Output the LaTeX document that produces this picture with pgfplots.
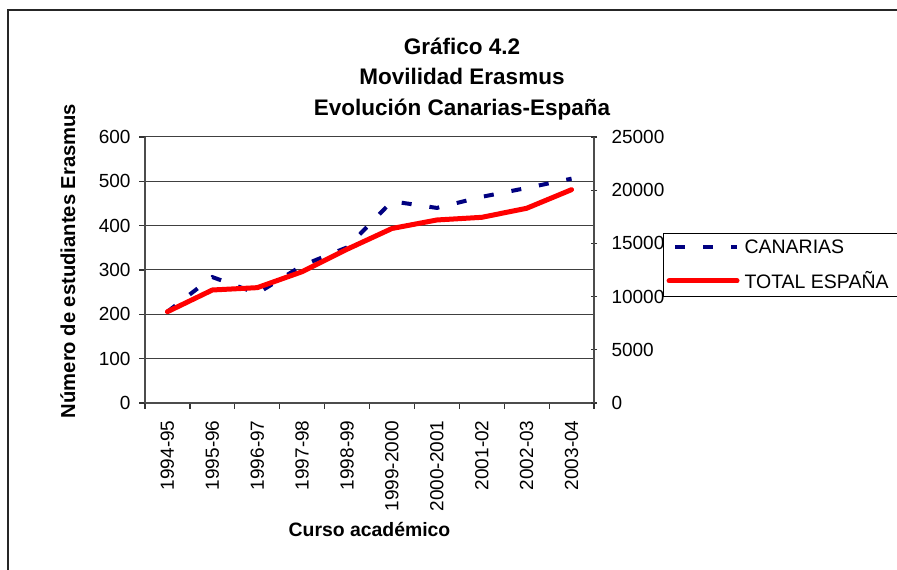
\documentclass[border=0pt]{standalone}
\usepackage{pgfplots}
\pgfplotsset{compat=1.18}
\usepackage{fontspec}
\setmainfont{Liberation Sans}
\definecolor{canblue}{RGB}{0,0,128}
\definecolor{espred}{RGB}{255,0,0}

\pgfplotstableread{
x can esp
0 206 8580
1 284 10620
2 247 10840
3 310 12340
4 351 14450
5 455 16400
6 440 17200
7 465 17450
8 485 18300
9 506 20050
}\datatable

\begin{document}
\begin{tikzpicture}[x=1bp,y=1bp]
\useasboundingbox (0,0) rectangle (897,570);
\fill[white] (0,0) rectangle (897,570);
\draw[line width=1.2bp, black!85] (8,-2) -- (8,560) -- (899,560);

\pgfplotsset{
 common/.style={
  scale only axis, width=449bp, height=266bp,
  at={(145bp,167bp)}, anchor=south west,
  xmin=-0.5, xmax=9.5,
  /pgf/number format/assume math mode=true,
  tick label style={font=\fontsize{19bp}{22bp}\selectfont},
  axis line style={-, line width=1.6bp, black!70},
  major tick length=6bp,
  tick style={line width=1.2bp, black!80},
 }
}
\begin{axis}[common,
  ymin=0, ymax=600, ytick={0,100,...,600},
  axis x line*=bottom, axis y line*=left,
  ymajorgrids, major grid style={line width=1bp, black!75},
  xtick={-0.5,0.5,...,9.5},
  x tick label as interval,
  xticklabels={1994-95,1995-96,1996-97,1997-98,1998-99,1999-2000,2000-2001,2001-02,2002-03,2003-04},
  xticklabel style={rotate=90, anchor=east, xshift=-8bp},
  yticklabel style={xshift=-5bp},
  tick align=outside,
  xlabel={\bfseries Curso académico},
  xlabel style={font=\fontsize{19.4bp}{22bp}\selectfont, at={(axis description cs:0.5,-0.477)}, anchor=center},
  ylabel={\bfseries Número de estudiantes Erasmus},
  ylabel style={font=\fontsize{20.2bp}{22bp}\selectfont, at={(axis description cs:-0.172,0.534)}, anchor=center},
  title={\bfseries Gráfico 4.2\\\bfseries Movilidad Erasmus\\\bfseries Evolución Canarias-España},
  title style={font=\fontsize{22.5bp}{30.5bp}\selectfont, align=center, at={(axis description cs:0.706,1.197)}, anchor=center},
]
\addplot[canblue, line width=4bp, dash pattern=on 10bp off 18bp] table[x=x, y=can] {\datatable};
\end{axis}

\begin{axis}[common,
  ymin=0, ymax=25000, ytick={0,5000,...,25000},
  axis y line*=right, axis x line=none,
  tick align=center,
  scaled y ticks=false,
  yticklabel style={xshift=11bp, /pgf/number format/.cd, fixed, set thousands separator={}},
  legend cell align=left,
  legend style={at={(axis description cs:1.1537,0.639)}, anchor=north west,
    draw=black, line width=1bp, font=\fontsize{19.5bp}{22bp}\selectfont,
    inner xsep=3bp, inner ysep=4bp, row sep=13bp},
  legend image code/.code={\draw[#1] (0bp,0bp) -- (68bp,0bp);},
]
\addlegendimage{canblue, line width=4bp, dash pattern=on 10bp off 18bp, dash phase=-6bp}
\addlegendentry{\hspace{3bp}\makebox[170bp][l]{CANARIAS}}
\addplot[espred, line width=5bp, line join=round, line cap=round] table[x=x, y=esp] {\datatable};
\addlegendentry{\hspace{3bp}\makebox[170bp][l]{TOTAL ESPAÑA}}
\end{axis}
\end{tikzpicture}
\end{document}
